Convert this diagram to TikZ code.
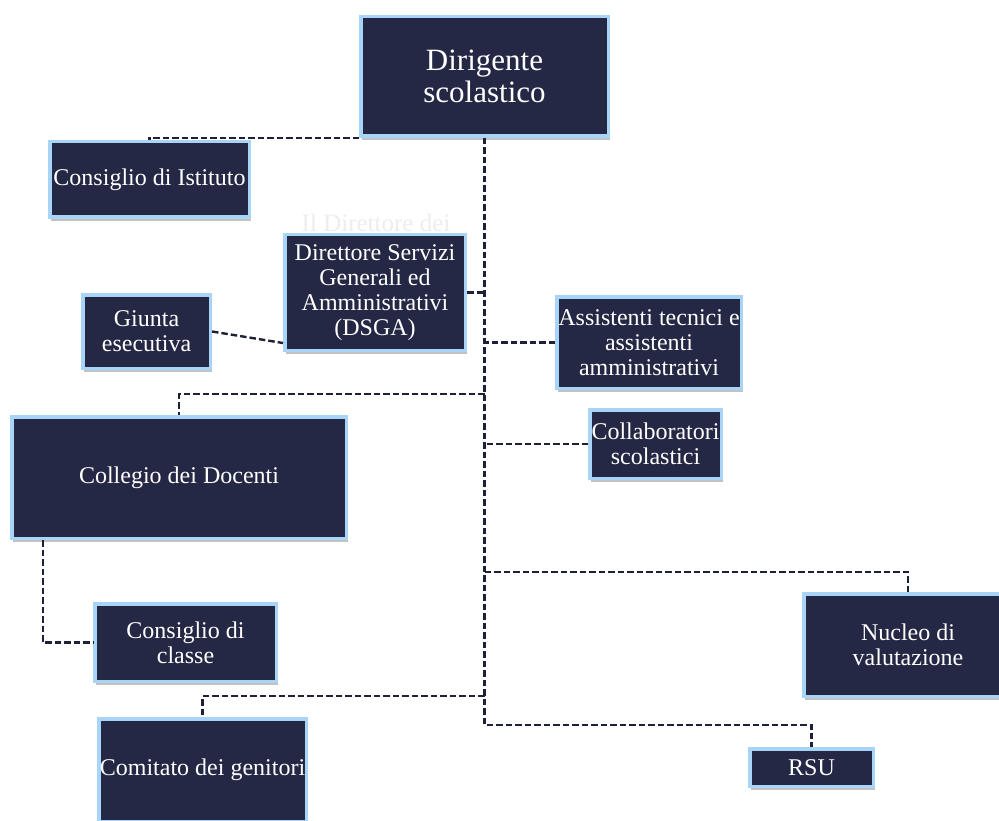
\documentclass[tikz,border=0pt]{standalone}
\usepackage{fontspec}
\setmainfont{Liberation Serif}
\usetikzlibrary{shadows,calc}
\definecolor{navy}{HTML}{242845}
\definecolor{lblue}{HTML}{A8D5F7}
\definecolor{conncol}{HTML}{1E2038}
\tikzset{
  orgbox/.style={rectangle, fill=navy, draw=lblue, line width=3.5pt, text=white,
    align=center, inner sep=0pt, font=\fontsize{24}{25}\selectfont,
    drop shadow={shadow xshift=1.5pt, shadow yshift=-4pt, opacity=0.4, fill=black!60}},
  conn/.style={draw=conncol, line width=2.4pt, dash pattern=on 6.5pt off 3pt}
}
\begin{document}
\begin{tikzpicture}[x=1pt,y=-1pt]
\useasboundingbox (0,0) rectangle (999,821);
% ghost text
\node[anchor=base, text=black!7, font=\fontsize{25}{26}\selectfont] (ghost) at (376,232) {Il Direttore dei};
% boxes
\node[orgbox, minimum width=247.5pt, minimum height=119.5pt, font=\fontsize{31}{32}\selectfont] (dir) at (484.5,76.5) {Dirigente\\scolastico};
\node[orgbox, minimum width=199.5pt, minimum height=75.5pt] (ci) at (149.5,179.5) {Consiglio di Istituto};
\node[orgbox, minimum width=180.5pt, minimum height=115.5pt] (dsga) at (375,292.5) {Direttore Servizi\\Generali ed\\Amministrativi\\(DSGA)};
\node[orgbox, minimum width=127.5pt, minimum height=73.5pt] (giunta) at (146.5,331.5) {Giunta\\esecutiva};
\node[orgbox, minimum width=184.5pt, minimum height=91.5pt] (assist) at (649,342.5) {Assistenti tecnici e\\assistenti\\amministrativi};
\node[orgbox, minimum width=131.5pt, minimum height=68.5pt] (collab) at (655.5,444) {Collaboratori\\scolastici};
\node[orgbox, minimum width=334.5pt, minimum height=121.5pt] (collegio) at (179,477.5) {Collegio dei Docenti};
\node[orgbox, minimum width=181.5pt, minimum height=77.5pt] (cclasse) at (185.5,642.5) {Consiglio di\\classe};
\node[orgbox, minimum width=208.5pt, minimum height=102.5pt] (nucleo) at (908,645) {Nucleo di\\valutazione};
\node[orgbox, minimum width=123.5pt, minimum height=37.5pt] (rsu) at (811.5,767.5) {RSU};
\node[orgbox, minimum width=207.5pt, minimum height=102.5pt] (comitato) at (202.5,770) {Comitato dei genitori};
% junction coordinates on the trunk
\coordinate (kcol) at (484.5,394);
\coordinate (knuc) at (484.5,572);
\coordinate (kcom) at (484.5,696);
\coordinate (krsu) at (811.5,725);
% connectors
\draw[conn] (dir.south west) -| (ci.north);
\draw[conn] (dir.south) |- (krsu) -- (rsu.north);
\draw[conn] (dsga.east) -- (dsga.east -| dir.south);
\draw[conn] (assist.west) -- (assist.west -| dir.south);
\draw[conn] (collab.west) -- (collab.west -| dir.south);
\draw[conn] (kcol) -| (collegio.north);
\draw[conn] ([xshift=33pt]collegio.south west) |- (cclasse.west);
\draw[conn] (knuc) -| (nucleo.north);
\draw[conn] (kcom) -| (comitato.north);
\draw[conn] (giunta.east) -- ([yshift=9pt]dsga.south west);
\end{tikzpicture}
\end{document}
